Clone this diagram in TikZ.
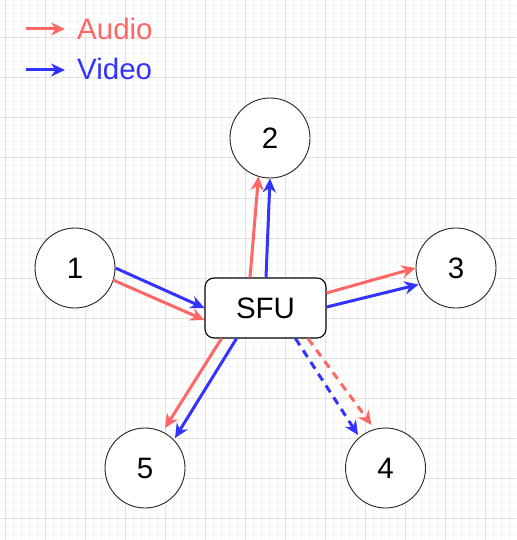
\documentclass[tikz,border=0pt]{standalone}
\usepackage{fontspec}
\setmainfont{Liberation Sans}
\usetikzlibrary{arrows.meta,calc}
\definecolor{aud}{HTML}{FF6666}
\definecolor{vid}{HTML}{3333FF}
\definecolor{gmaj}{HTML}{E0E0E0}
\definecolor{gmin}{HTML}{F5F5F5}
\begin{document}
\begin{tikzpicture}[x=1pt,y=-1pt,
  peer/.style={circle,draw=black!85,line width=0.9pt,fill=white,minimum size=80pt,inner sep=0pt,font=\fontsize{29.5}{34}\selectfont},
  hub/.style={rectangle,rounded corners=9pt,draw=black,line width=1.1pt,fill=white,minimum width=121pt,minimum height=60pt,inner sep=0pt,font=\fontsize{29.5}{34}\selectfont},
  tipstyle/.style={-{Stealth[length=14pt,width=13pt,inset=4.5pt]}},
  audio/.style={draw=aud,line width=3pt,tipstyle},
  video/.style={draw=vid,line width=3pt,tipstyle},
  dsh/.style={dash pattern=on 8pt off 6pt},
  legtext/.style={anchor=base west,inner sep=0pt,font=\fontsize{29.5}{34}\selectfont},
  minorgrid/.style={draw=gmin,line width=1pt},
  majorgrid/.style={draw=gmaj,line width=1pt}]
\useasboundingbox (0,0) rectangle (516,540);
\fill[white] (0,0) rectangle (516,540);
% grid
\foreach \k in {0,...,63} {\draw[minorgrid] ({5+8*\k},0) -- ({5+8*\k},540);}
\foreach \k in {0,...,66} {\draw[minorgrid] (0,{6+8*\k}) -- (516,{6+8*\k});}
\foreach \k in {0,...,12} {\draw[majorgrid] ({5+40*\k},0) -- ({5+40*\k},540);}
\foreach \k in {0,...,12} {\draw[majorgrid] (0,{38+40*\k}) -- (516,{38+40*\k});}
% legend
\coordinate (la1) at (26,29);
\coordinate (la2) at (65,29);
\coordinate (lv1) at (26,70);
\coordinate (lv2) at (65,70);
\node[legtext,text=aud] (ta) at (77,40) {Audio};
\node[legtext,text=vid] (tv) at (77,80) {Video};
\draw[audio] (la1) -- (la2);
\draw[video] (lv1) -- (lv2);
% nodes
\node[peer] (n1) at (75,268) {1};
\node[peer] (n2) at (270,138) {2};
\node[peer] (n3) at (456,268) {3};
\node[peer] (n4) at (385.5,468) {4};
\node[peer] (n5) at (145,468) {5};
\node[hub] (sfu) at (265.5,308) {SFU};
% connectors
\draw[video] (n1.east) -- (sfu.west);
\draw[audio] ($(n1)+(38,12)$) -- ($(sfu.west)+(0,12)$);
\draw[audio] ($(sfu.north)+(-15.5,0)$) -- ($(n2)+(-11.5,38.3)$);
\draw[video] ($(sfu.north)+(0.5,0)$) -- (n2.south);
\draw[audio] ($(sfu.east)+(0,-15)$) -- (n3.west);
\draw[video] ($(sfu.east)+(0,-1)$) -- ($(n3)+(-37.5,16.5)$);
\draw[video,dsh] ($(sfu.south)+(30,0)$) -- ($(n4)+(-27.5,-33)$);
\draw[audio,dsh] ($(sfu.south)+(42.5,0)$) -- ($(n4)+(-14,-43)$);
\draw[audio] ($(sfu.south)+(-44,0)$) -- ($(n5)+(20,-40)$);
\draw[video] ($(sfu.south)+(-29,0)$) -- ($(n5)+(30,-30)$);
\end{tikzpicture}
\end{document}
